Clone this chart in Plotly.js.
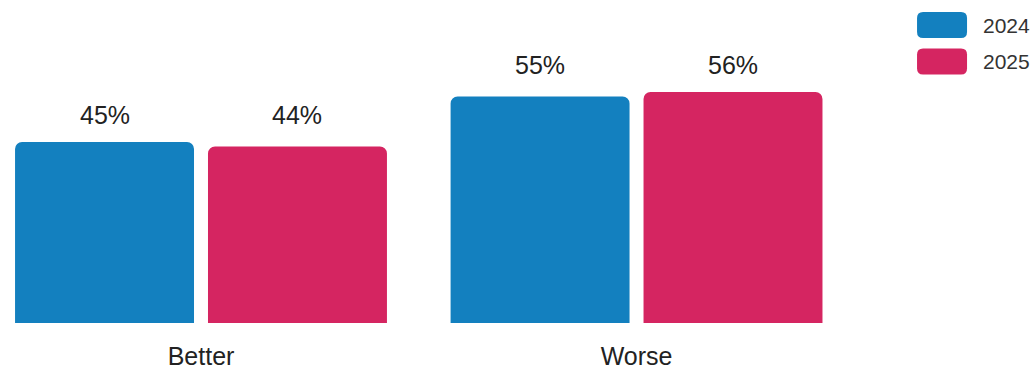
<!DOCTYPE html>
<html>
<head>
<meta charset="utf-8">
<script src="https://cdn.plot.ly/plotly-3.0.1.min.js"></script>
<style>html,body{margin:0;padding:0;background:#fff;}#chart{width:1035px;height:369px;}</style>
</head>
<body>
<div id="chart"></div>
<script>
const categories = ['Better', 'Worse'];
const seriesNames = ['2024', '2025'];
const values2024 = [45, 55];
const values2025 = [44, 56];
const seriesColors = ['#1380bf', '#d52561'];

const seriesValues = [values2024, values2025];
const FONT = 'Liberation Sans, Arial, sans-serif';
const TEXT = '#222';

const catIdx = categories.map((c, i) => i);
const bargap = 0.114, groupgap = 0.0725;
const slot = (1 - bargap) / seriesNames.length;

const traces = seriesNames.map((name, s) => ({
  type: 'bar',
  name: name,
  x: catIdx,
  y: seriesValues[s],
  marker: {color: seriesColors[s], line: {width: 0}},
  hoverinfo: 'skip'
}));

// value labels: aligned per category above the tallest bar
const annotations = [];
catIdx.forEach(i => {
  const top = Math.max(...seriesValues.map(v => v[i]));
  seriesNames.forEach((n, s) => {
    const offset = -(1 - bargap) / 2 + slot * (s + 0.5);
    annotations.push({
      x: i + offset, y: top, xref: 'x', yref: 'y',
      text: seriesValues[s][i] + '%', showarrow: false,
      yanchor: 'bottom', yshift: 11,
      font: {family: FONT, size: 25, color: TEXT}
    });
  });
});

// custom legend
const shapes = [];
const legY = [0.9226, 0.8096];
seriesNames.forEach((n, s) => {
  const w = 25, h = 13, r = 6;
  shapes.push({
    type: 'path', xref: 'paper', yref: 'paper',
    xsizemode: 'pixel', ysizemode: 'pixel',
    xanchor: 1.0705, yanchor: legY[s],
    path: `M ${-w + r} ${-h} L ${w - r} ${-h} Q ${w} ${-h} ${w} ${-h + r} L ${w} ${h - r} Q ${w} ${h} ${w - r} ${h} L ${-w + r} ${h} Q ${-w} ${h} ${-w} ${h - r} L ${-w} ${-h + r} Q ${-w} ${-h} ${-w + r} ${-h} Z`,
    fillcolor: seriesColors[s], line: {width: 0}
  });
  annotations.push({
    x: 1.115, y: legY[s], xref: 'paper', yref: 'paper',
    xanchor: 'left', yanchor: 'middle', showarrow: false,
    text: n, font: {family: FONT, size: 21, color: '#333'}
  });
});

const layout = {
  width: 1035, height: 369,
  margin: {l: 0, r: 155, t: 0, b: 46},
  paper_bgcolor: '#fff', plot_bgcolor: '#fff',
  barmode: 'group', bargap: bargap, bargroupgap: groupgap,
  barcornerradius: 7,
  showlegend: false,
  xaxis: {
    range: [-0.4615, 1.559],
    tickvals: catIdx, ticktext: categories,
    showgrid: false, zeroline: false, showline: false, ticks: '',
    tickfont: {family: FONT, size: 25, color: TEXT},
    ticklabelstandoff: 16, fixedrange: true
  },
  yaxis: {
    range: [5.17, 76.24], visible: false, showgrid: false, zeroline: false, fixedrange: true
  },
  annotations: annotations,
  shapes: shapes
};

Plotly.newPlot('chart', traces, layout, {displayModeBar: false, staticPlot: true});
</script>
</body>
</html>
